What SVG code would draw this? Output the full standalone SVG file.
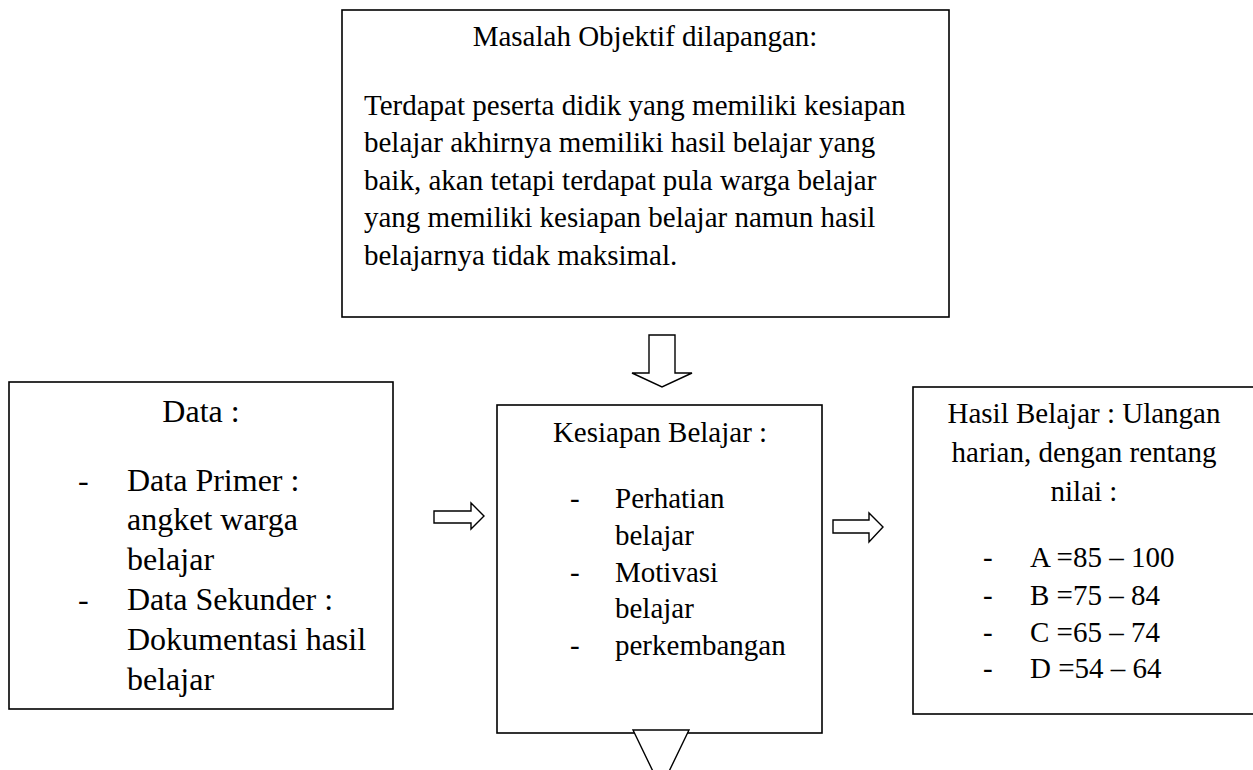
<svg xmlns="http://www.w3.org/2000/svg" width="1253" height="770" viewBox="0 0 1253 770" font-family="'Liberation Serif', 'Times New Roman', Times, serif">
<style>
.box{fill:#fff;stroke:#000;stroke-width:1.6}
.arr{fill:#fff;stroke:#000;stroke-width:1.4;stroke-linejoin:miter}
text{font-family:'Liberation Serif','Times New Roman',Times,serif;fill:#000}
.t29{font-size:29px}
.t32{font-size:32px}
.mid{text-anchor:middle}
</style>
<rect width="1253" height="770" fill="#fff"/>
<g id="node-masalah">
<rect class="box" x="342" y="10" width="607" height="307"/>
<text class="t29 mid" x="645" y="46">Masalah Objektif dilapangan:</text>
<text class="t29" x="364" y="115">Terdapat peserta didik yang memiliki kesiapan</text>
<text class="t29" x="364" y="152">belajar akhirnya memiliki hasil belajar yang</text>
<text class="t29" x="364" y="190">baik, akan tetapi terdapat pula warga belajar</text>
<text class="t29" x="364" y="227">yang memiliki kesiapan belajar namun hasil</text>
<text class="t29" x="364" y="265">belajarnya tidak maksimal.</text>
</g>
<g id="node-data">
<rect class="box" x="9" y="382" width="384" height="327"/>
<text class="t32 mid" x="201" y="422">Data :</text>
<text class="t32" x="78" y="491">-</text>
<text class="t32" x="127" y="491">Data Primer :</text>
<text class="t32" x="127" y="530">angket warga</text>
<text class="t32" x="127" y="570">belajar</text>
<text class="t32" x="78" y="610">-</text>
<text class="t32" x="127" y="610">Data Sekunder :</text>
<text class="t32" x="127" y="650">Dokumentasi hasil</text>
<text class="t32" x="127" y="690">belajar</text>
</g>
<g id="node-kesiapan">
<rect class="box" x="497" y="405" width="325" height="328"/>
<text class="t29 mid" x="660" y="442">Kesiapan Belajar :</text>
<text class="t29" x="570" y="508">-</text>
<text class="t29" x="615" y="508">Perhatian</text>
<text class="t29" x="615" y="545">belajar</text>
<text class="t29" x="570" y="582">-</text>
<text class="t29" x="615" y="582">Motivasi</text>
<text class="t29" x="615" y="618">belajar</text>
<text class="t29" x="570" y="655">-</text>
<text class="t29" x="615" y="655">perkembangan</text>
</g>
<g id="node-hasil">
<rect class="box" x="913" y="387" width="400" height="327"/>
<text class="t29 mid" x="1084" y="423">Hasil Belajar : Ulangan</text>
<text class="t29 mid" x="1084" y="462">harian, dengan rentang</text>
<text class="t29 mid" x="1084" y="501">nilai :</text>
<text class="t29" x="983" y="567">-</text>
<text class="t29" x="1030" y="567">A =85 – 100</text>
<text class="t29" x="983" y="605">-</text>
<text class="t29" x="1030" y="605">B =75 – 84</text>
<text class="t29" x="983" y="642">-</text>
<text class="t29" x="1030" y="642">C =65 – 74</text>
<text class="t29" x="983" y="678">-</text>
<text class="t29" x="1030" y="678">D =54 – 64</text>
</g>
<g id="connectors">
<polygon class="arr" points="649,335 675,335 675,373 692,373 662,387 632,373 649,373"/>
<polygon class="arr" points="434,511 471,511 471,503 484,516 471,529 471,523 434,523"/>
<polygon class="arr" points="833,520 869,520 869,513 883,527 869,542 869,533 833,533"/>
<polygon class="arr" points="633,730 689,730 661,788"/>
</g>
</svg>
